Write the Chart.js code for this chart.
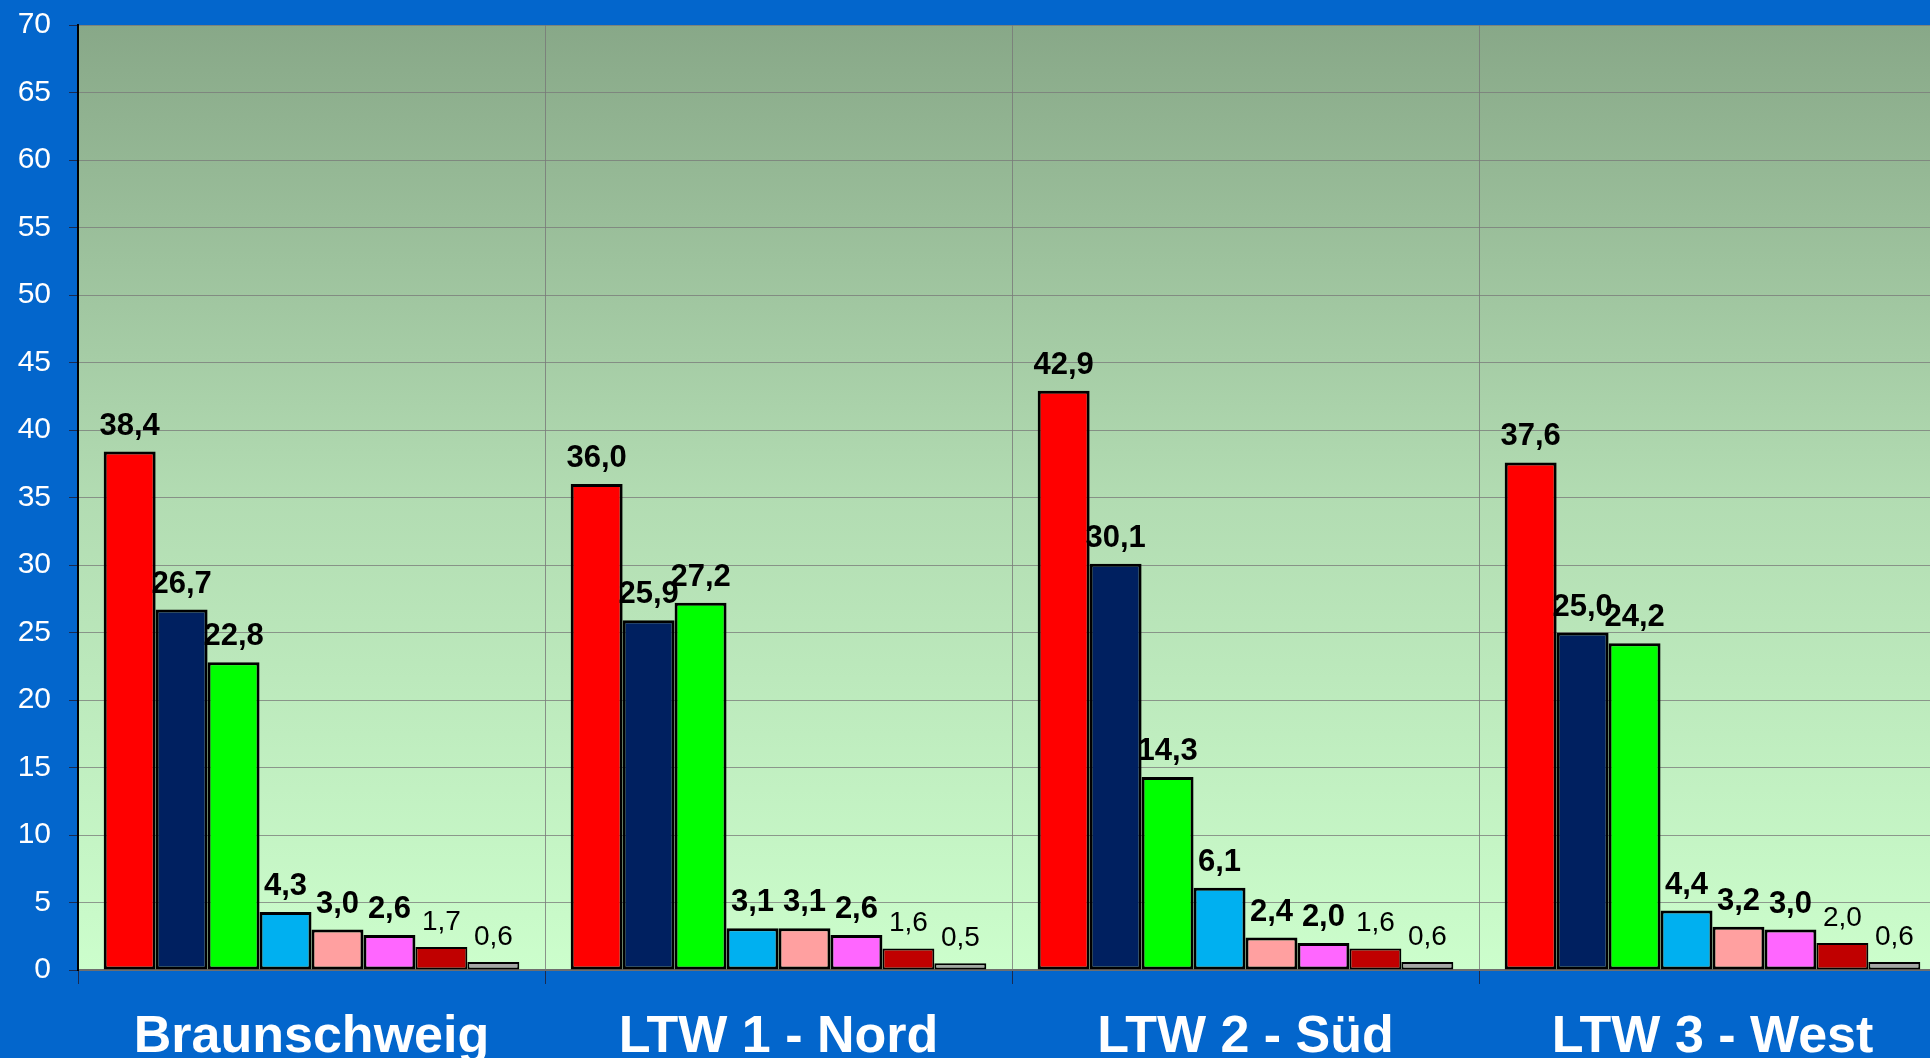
<!DOCTYPE html>
<html>
<head>
<meta charset="utf-8">
<script src="https://cdn.jsdelivr.net/npm/chart.js@4.4.1/dist/chart.umd.min.js"></script>
<style>
  html, body { margin: 0; padding: 0; background: #0366cc; overflow: hidden; }
  /* plot area runs a little past the right edge of the picture */
  #wrap { width: 1946px; height: 1058px; }
</style>
</head>
<body>
<div id="wrap"><canvas id="chart"></canvas></div>
<script>
// ── Data ─────────────────────────────────────────────────────────────────────
const categories = ['Braunschweig', 'LTW 1 - Nord', 'LTW 2 - Süd', 'LTW 3 - West'];

const s1 = [38.4, 36.0, 42.9, 37.6];
const s2 = [26.7, 25.9, 30.1, 25.0];
const s3 = [22.8, 27.2, 14.3, 24.2];
const s4 = [4.3, 3.1, 6.1, 4.4];
const s5 = [3.0, 3.1, 2.4, 3.2];
const s6 = [2.6, 2.6, 2.0, 3.0];
const s7 = [1.7, 1.6, 1.6, 2.0];
const s8 = [0.6, 0.5, 0.6, 0.6];

const yTicks = [0, 5, 10, 15, 20, 25, 30, 35, 40, 45, 50, 55, 60, 65, 70];

const SERIES  = [s1, s2, s3, s4, s5, s6, s7, s8];
const COLORS  = ['#ff0000', '#002060', '#00ff00', '#00b0f0', '#ffa0a0', '#ff66ff', '#c00000', '#a6a6a6'];
const BORDERS = [3, 3, 3, 3, 3, 3, 2, 2];
const BOLD    = [true, true, true, true, true, true, false, false];

const FONT = '"Liberation Sans", Arial, sans-serif';

// ── Plot background gradient ─────────────────────────────────────────────────
const plotBackground = {
  id: 'plotBackground',
  beforeDraw(chart) {
    const { ctx, chartArea: a } = chart;
    const g = ctx.createLinearGradient(0, a.top, 0, a.bottom);
    g.addColorStop(0, '#88a888');
    g.addColorStop(0.5, '#b2dcb2');
    g.addColorStop(1, '#ccfecc');
    ctx.save();
    ctx.fillStyle = g;
    ctx.fillRect(a.left, a.top, a.right - a.left, a.bottom - a.top);
    ctx.restore();
  }
};

// ── Value labels above bars (German decimal comma) ───────────────────────────
const valueLabels = {
  id: 'valueLabels',
  afterDatasetsDraw(chart) {
    const ctx = chart.ctx;
    ctx.save();
    ctx.textAlign = 'center';
    ctx.textBaseline = 'alphabetic';
    ctx.fillStyle = '#000';
    chart.data.datasets.forEach((ds, di) => {
      const meta = chart.getDatasetMeta(di);
      ctx.font = BOLD[di] ? `bold 31px ${FONT}` : `28px ${FONT}`;
      meta.data.forEach((bar, i) => {
        const txt = ds.data[i].toFixed(1).replace('.', ',');
        ctx.fillText(txt, bar.x, bar.y - 17);
      });
    });
    ctx.restore();
  }
};

new Chart(document.getElementById('chart'), {
  type: 'bar',
  data: {
    labels: categories,
    datasets: SERIES.map((d, i) => ({
      data: d,
      backgroundColor: COLORS[i],
      borderColor: '#000',
      borderWidth: BORDERS[i],
      borderSkipped: false,
      categoryPercentage: 0.89,
      barPercentage: 1.0
    }))
  },
  options: {
    responsive: true,
    maintainAspectRatio: false,
    animation: false,
    layout: { padding: { top: 25, left: 0, right: 0, bottom: 0 } },
    plugins: {
      legend: { display: false },
      tooltip: { enabled: false }
    },
    scales: {
      x: {
        afterFit(scale) {
          scale.height = 88;
          scale.paddingLeft = 0;
          scale.paddingRight = 0;
        },
        grid: {
          color: 'rgba(120,120,120,0.8)',
          tickColor: '#1a2a50',
          tickLength: 14,
          offset: true
        },
        border: { color: '#6e6e6e', width: 2 },
        ticks: {
          color: '#ffffff',
          padding: 22,
          font: { family: FONT, size: 52, weight: 'bold' }
        }
      },
      y: {
        min: 0,
        max: 70,
        afterFit(scale) {
          scale.width = 78;
          scale.paddingTop = 0;
          scale.paddingBottom = 0;
        },
        afterBuildTicks(scale) { scale.ticks = yTicks.map(v => ({ value: v })); },
        grid: {
          color: 'rgba(120,120,120,0.75)',
          tickColor: '#1a2a50',
          tickLength: 9
        },
        border: { color: '#000000', width: 2 },
        ticks: {
          color: '#ffffff',
          padding: 18,
          font: { family: FONT, size: 30 }
        }
      }
    }
  },
  plugins: [plotBackground, valueLabels]
});
</script>
</body>
</html>
